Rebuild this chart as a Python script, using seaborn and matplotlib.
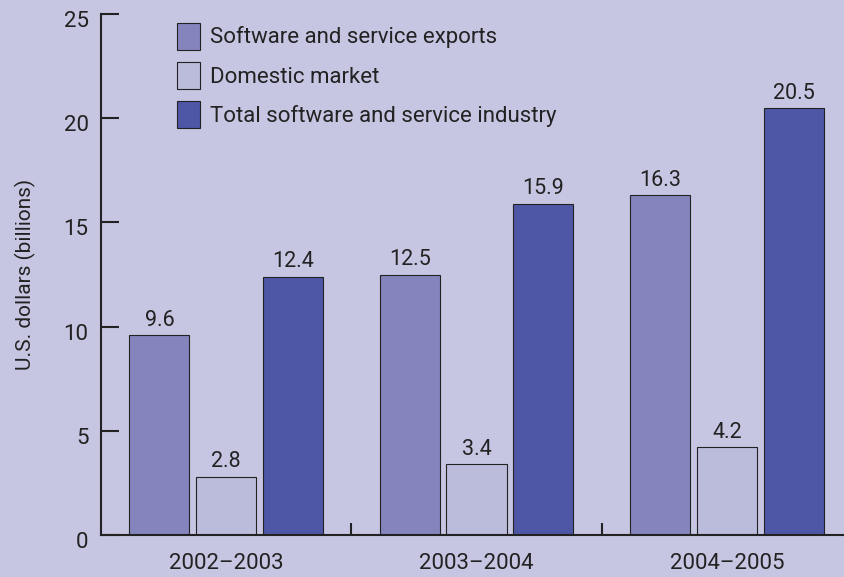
import seaborn as sns
import matplotlib.pyplot as plt
import matplotlib.transforms as mtrans
import pandas as pd

periods = ['2002\u20132003', '2003\u20132004', '2004\u20132005']
exports = [9.6, 12.5, 16.3]
domestic = [2.8, 3.4, 4.2]
total = [12.4, 15.9, 20.5]
series = ['Software and service exports', 'Domestic market', 'Total software and service industry']
colors = ['#8585BE', '#BBBBDC', '#4E56A6']
bg = '#C6C6E3'

df = pd.DataFrame({
    'period': periods * 3,
    'value': exports + domestic + total,
    'series': [series[0]] * 3 + [series[1]] * 3 + [series[2]] * 3,
})

sns.set_style('ticks')
plt.rcParams['font.family'] = ['Roboto', 'DejaVu Sans']

fig = plt.figure(figsize=(8.44, 5.77), dpi=100)
fig.patch.set_facecolor(bg)
ax = fig.add_axes([0.1197, 0.0728, 0.8803, 0.9029])
ax.set_facecolor(bg)

sns.barplot(data=df, x='period', y='value', hue='series', palette=colors,
            saturation=1, width=0.8, gap=0.1, edgecolor='#222222', linewidth=0.8,
            ax=ax, legend=True)

for c in ax.containers:
    ax.bar_label(c, fmt='%.1f', padding=3, fontsize=15.5, color='#222222')

ax.set_xlim(-0.5, 2.468)
ax.set_ylim(0, 25)
ax.set_yticks([0, 5, 10, 15, 20, 25])
ax.tick_params(axis='y', direction='in', length=13, width=1.5, pad=9,
               labelsize=16, colors='#222222')
ax.tick_params(axis='x', length=0, pad=13, labelsize=16, colors='#222222')
ax.set_xticks([0.5, 1.5], minor=True)
ax.tick_params(axis='x', which='minor', direction='in', length=9, width=1.5, color='#222222')
ax.set_xlabel('')
ax.set_ylabel('U.S. dollars (billions)', fontsize=15, color='#222222', labelpad=20)

# y labels sit a little below their ticks in the original
shift = mtrans.ScaledTranslation(0, -5 / 100, fig.dpi_scale_trans)
for lbl in ax.get_yticklabels():
    lbl.set_transform(lbl.get_transform() + shift)

sns.despine(ax=ax, top=True, right=True)
for s in ['left', 'bottom']:
    ax.spines[s].set_linewidth(1.5)
    ax.spines[s].set_color('#222222')

leg = ax.legend(loc='upper left', bbox_to_anchor=(0.076, 1.022), frameon=False,
                fontsize=16, handlelength=1.0, handleheight=1.49, handletextpad=0.45,
                labelspacing=0.55, title=None)
for t in leg.get_texts():
    t.set_color('#222222')

fig.savefig('out.png', dpi=100, facecolor=bg)
